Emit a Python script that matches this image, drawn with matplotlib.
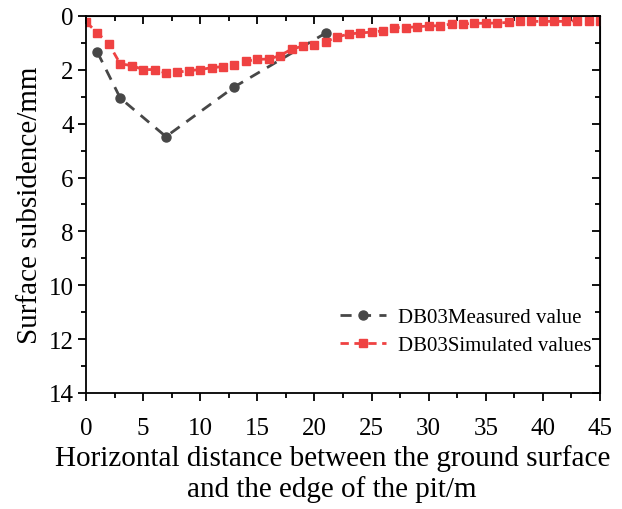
import numpy as np
import matplotlib
matplotlib.use("Agg")
import matplotlib.pyplot as plt
from matplotlib.ticker import MultipleLocator

plt.rcParams['font.family'] = ['Liberation Serif', 'DejaVu Serif']

# measured settlement (DB03)
meas_x = [1, 3, 7, 13, 21]
meas_y = [1.35, 3.05, 4.48, 2.63, 0.63]

# simulated settlement (DB03), one value per metre
sim_x = list(range(0, 46))
sim_y = [0.22, 0.63, 1.04, 1.78, 1.84, 1.99, 1.99, 2.12, 2.09, 2.03,
         1.99, 1.92, 1.88, 1.81, 1.68, 1.61, 1.60, 1.47, 1.23, 1.12,
         1.06, 0.95, 0.78, 0.67, 0.63, 0.60, 0.55, 0.43, 0.43, 0.40,
         0.37, 0.36, 0.30, 0.30, 0.27, 0.27, 0.26, 0.24, 0.20, 0.20,
         0.20, 0.20, 0.20, 0.17, 0.17, 0.17]

gray = '#474747'
red = '#ef4242'

fig = plt.figure(figsize=(6.22, 5.10), dpi=100)
ax = fig.add_axes([0.1383, 0.2275, 0.8263, 0.7392])

ax.plot(meas_x, meas_y, color=gray, lw=2, dashes=(4, 3), marker='o',
        markersize=6.5, label='DB03Measured value')
ax.plot(sim_x, sim_y, color=red, lw=2, dashes=(3, 2), marker='s',
        markersize=6.3, label='DB03Simulated values')

ax.set_xlim(0, 45)
ax.set_ylim(14, 0)
ax.xaxis.set_major_locator(MultipleLocator(5))
ax.xaxis.set_minor_locator(MultipleLocator(2.5))
ax.yaxis.set_major_locator(MultipleLocator(2))
ax.yaxis.set_minor_locator(MultipleLocator(1))
ax.tick_params(which='both', direction='out', width=1.3, labelsize=18)
ax.tick_params(which='major', length=6)
ax.tick_params(which='minor', length=3.5)
ax.tick_params(axis='x', which='major', pad=11)
ax.tick_params(axis='y', which='major', pad=3)
for sp in ax.spines.values():
    sp.set_linewidth(1.3)

# mirror ticks on top / right pointing inward
top = ax.secondary_xaxis('top')
top.xaxis.set_major_locator(MultipleLocator(5))
top.xaxis.set_minor_locator(MultipleLocator(2.5))
top.tick_params(which='both', direction='in', width=1.3, labeltop=False)
top.tick_params(which='major', length=6)
top.tick_params(which='minor', length=3.5)
right = ax.secondary_yaxis('right')
right.yaxis.set_major_locator(MultipleLocator(2))
right.yaxis.set_minor_locator(MultipleLocator(1))
right.tick_params(which='both', direction='in', width=1.3, labelright=False)
right.tick_params(which='major', length=6)
right.tick_params(which='minor', length=3.5)

ax.set_ylabel('Surface subsidence/mm', fontsize=21, labelpad=4)
ax.set_xlabel('Horizontal distance between the ground surface\nand the edge of the pit/m',
              fontsize=21, labelpad=4)
ax.xaxis.label.set_x(0.479)

ax.legend(loc='lower right', bbox_to_anchor=(1.02, 0.05), frameon=False,
          fontsize=15, handlelength=2.2, handletextpad=0.6, labelspacing=0.4)

fig.savefig('out.png', dpi=100)
